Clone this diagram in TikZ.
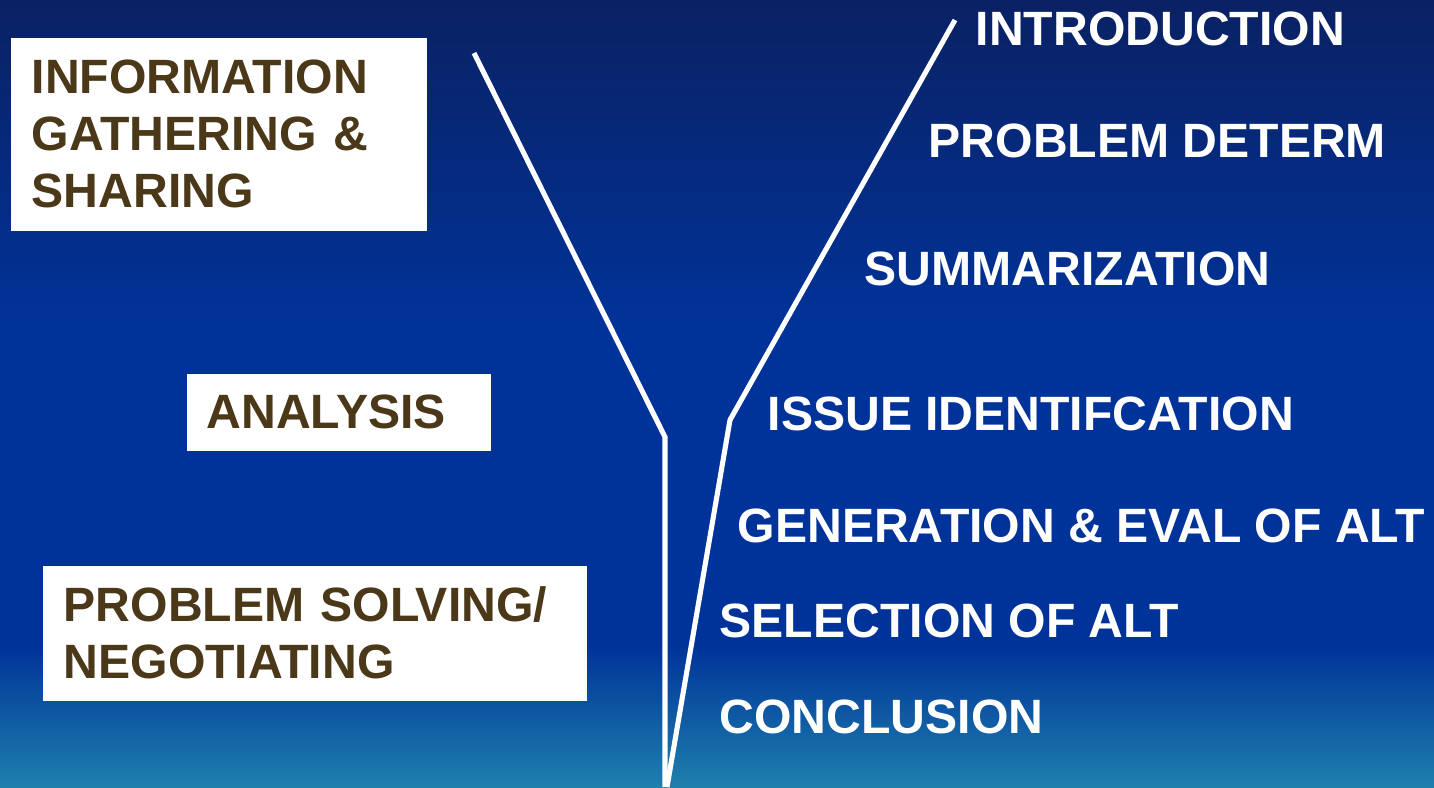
\documentclass[tikz,border=0pt]{standalone}
\usepackage{fontspec}
\setmainfont{Liberation Sans}
\usepackage{tikz}
\usetikzlibrary{arrows,shapes}
\definecolor{cbgtop}{rgb}{0.04,0.13,0.39}
\definecolor{cbgmid}{rgb}{0.0,0.20,0.60}
\definecolor{cbgbot}{rgb}{0.12,0.50,0.68}
\definecolor{clbox}{rgb}{0.29,0.22,0.10}
\pgfdeclareverticalshading{slidebg}{100bp}{color(0bp)=(cbgbot); color(25bp)=(cbgbot); color(34bp)=(cbgmid); color(54bp)=(cbgmid); color(75bp)=(cbgtop); color(100bp)=(cbgtop)}
\tikzset{
  bigtext/.style={font=\fontsize{13.7pt}{16.2pt}\selectfont\bfseries},
  stage/.style={bigtext,text=white,inner sep=0pt,anchor=base west},
  phase/.style={bigtext,fill=white,text=clbox,align=left,inner ysep=0pt,anchor=north west},
  funnel/.style={draw=white,line width=1.45pt}
}
\begin{document}
\begin{tikzpicture}
%
\useasboundingbox (0,0) rectangle (14.34cm,7.87cm);
\shade[shading=slidebg] (0,0) rectangle (14.34,7.87);
%
\node[phase,inner xsep=0.21cm,text width=3.74cm,minimum height=1.93cm] (v0) at (0.10,7.50) {INFORMATION\\GATHERING \&\\SHARING};
\node[phase,inner xsep=0.20cm,text width=2.64cm,minimum height=0.77cm] (v1) at (1.86,4.14) {ANALYSIS};
\node[phase,inner xsep=0.21cm,text width=5.02cm,minimum height=1.35cm] (v2) at (0.42,2.22) {PROBLEM SOLVING/\\NEGOTIATING};
%
\node[stage] (s0) at (9.75,7.42) {INTRODUCTION};
\node[stage] (s1) at (9.28,6.30) {PROBLEM DETERM};
\node[stage] (s2) at (8.64,5.02) {SUMMARIZATION};
\node[stage] (s3) at (7.67,3.57) {ISSUE IDENTIFCATION};
\node[stage] (s4) at (7.37,2.45) {GENERATION \& EVAL OF ALT};
\node[stage] (s5) at (7.19,1.50) {SELECTION OF ALT};
\node[stage] (s6) at (7.19,0.54) {CONCLUSION};
%
\coordinate (ltop) at (4.74,7.34);
\coordinate (lbend) at (6.65,3.50);
\coordinate (lbot) at (6.65,0);
\coordinate (rtop) at (9.55,7.67);
\coordinate (rbend) at (7.30,3.67);
\coordinate (rbot) at (6.67,0);
%
\draw[funnel] (ltop) -- (lbend) -- (lbot);
\draw[funnel] (rtop) -- (rbend) -- (rbot);
%
\end{tikzpicture}
\end{document}
